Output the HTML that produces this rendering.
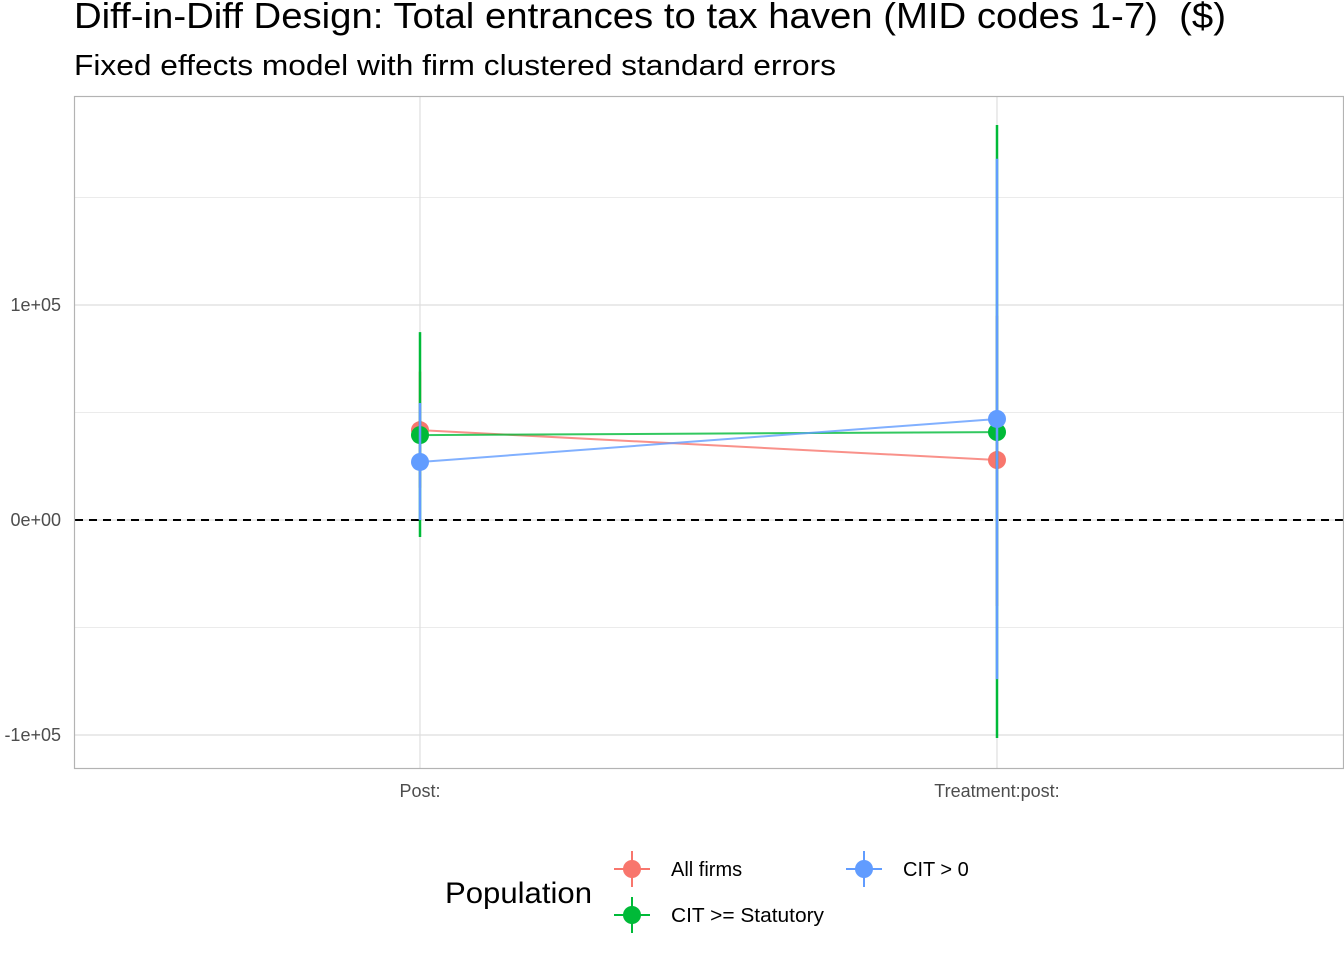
<!DOCTYPE html>
<html><head><meta charset="utf-8"><style>
body{margin:0;background:#fff;font-family:"Liberation Sans",sans-serif}
</style></head><body>
<svg width="1344" height="960" xmlns="http://www.w3.org/2000/svg" font-family="Liberation Sans, sans-serif">
<text x="74" y="28" font-size="36" fill="#000" textLength="1152" lengthAdjust="spacingAndGlyphs" xml:space="preserve">Diff-in-Diff Design: Total entrances to tax haven (MID codes 1-7)  ($)</text>
<text x="74" y="75" font-size="29" fill="#000" textLength="762" lengthAdjust="spacingAndGlyphs">Fixed effects model with firm clustered standard errors</text>
<g id="grid"></g>
<g id="marks"></g>
<rect x="74.5" y="96.5" width="1269" height="672" fill="none" stroke="#b3b3b3" stroke-width="1.2"/>
<g id="axes"></g>
<g>
<text x="445" y="903" font-size="30" textLength="147" lengthAdjust="spacingAndGlyphs">Population</text>
<g><line x1="614" x2="650" y1="869" y2="869" stroke="#F8766D" stroke-width="2"/><line x1="632" x2="632" y1="851" y2="887" stroke="#F8766D" stroke-width="2"/><circle cx="632" cy="869" r="9" fill="#F8766D"/><text x="671" y="876" font-size="20">All firms</text></g>
<g><line x1="846" x2="882" y1="869" y2="869" stroke="#619CFF" stroke-width="2"/><line x1="864" x2="864" y1="851" y2="887" stroke="#619CFF" stroke-width="2"/><circle cx="864" cy="869" r="9" fill="#619CFF"/><text x="903" y="876" font-size="20">CIT &gt; 0</text></g>
<g><line x1="614" x2="650" y1="915" y2="915" stroke="#00BA38" stroke-width="2"/><line x1="632" x2="632" y1="897" y2="933" stroke="#00BA38" stroke-width="2"/><circle cx="632" cy="915" r="9" fill="#00BA38"/><text x="671" y="922" font-size="20" textLength="153" lengthAdjust="spacingAndGlyphs">CIT &gt;= Statutory</text></g>
</g>
</svg>
<script>
const categories=["Post:","Treatment:post:"];
const seriesNames=["All firms","CIT >= Statutory","CIT > 0"];
const colors=["#F8766D","#00BA38","#619CFF"];
const estAll=[41800,27900];
const lowAll=[15000,-40000];
const highAll=[69000,95000];
const estStat=[39500,40900];
const lowStat=[-7900,-101400];
const highStat=[87400,183700];
const estCit=[27000,47000];
const lowCit=[0,-74000];
const highCit=[54400,168000];
const yTicks=[-100000,0,100000];
const yTickLabels=["-1e+05","0e+00","1e+05"];
const yMinor=[-50000,50000,150000];
const ns="http://www.w3.org/2000/svg";
function y(v){return 520-v*215/100000;}
function x(i){return 420+i*577;}
function mk(t,a,p){const e=document.createElementNS(ns,t);for(const k in a)e.setAttribute(k,a[k]);p.appendChild(e);return e;}
const grid=document.getElementById('grid'),marks=document.getElementById('marks'),axes=document.getElementById('axes');
yMinor.forEach(v=>{const l=mk('line',{x1:75,x2:1343,y1:y(v),y2:y(v),stroke:'#ebebeb','stroke-width':1},grid);

});
yTicks.forEach((v,i)=>{const l=mk('line',{x1:75,x2:1343,y1:y(v),y2:y(v),stroke:'#dedede','stroke-width':1.2},grid);


const t=mk('text',{x:61,y:y(v)+6,'font-size':18,fill:'#4d4d4d','text-anchor':'end'},axes);t.textContent=yTickLabels[i];

});
categories.forEach((c,i)=>{const l=mk('line',{x1:x(i),x2:x(i),y1:97,y2:768,stroke:'#dedede','stroke-width':1.2},grid);


const t=mk('text',{x:x(i),y:797,'font-size':18,fill:'#4d4d4d','text-anchor':'middle'},axes);t.textContent=c;

});
const zl=mk('line',{x1:75,x2:1343,y1:y(0),y2:y(0),stroke:'#000','stroke-width':2,'stroke-dasharray':'8,6'},marks);


const S=[[estAll,lowAll,highAll],[estStat,lowStat,highStat],[estCit,lowCit,highCit]];
S.forEach((s,k)=>{const pl=mk('polyline',{points:s[0].map((v,i)=>x(i)+','+y(v)).join(' '),fill:'none',stroke:colors[k],'stroke-width':2,'stroke-opacity':0.8},marks);

});
S.forEach((s,k)=>{s[0].forEach((v,i)=>{
const eb=mk('line',{x1:x(i),x2:x(i),y1:y(s[2][i]),y2:y(s[1][i]),stroke:colors[k],'stroke-width':2.5},marks);


const c=mk('circle',{cx:x(i),cy:y(v),r:9,fill:colors[k]},marks);

});});
</script>
</body></html>
